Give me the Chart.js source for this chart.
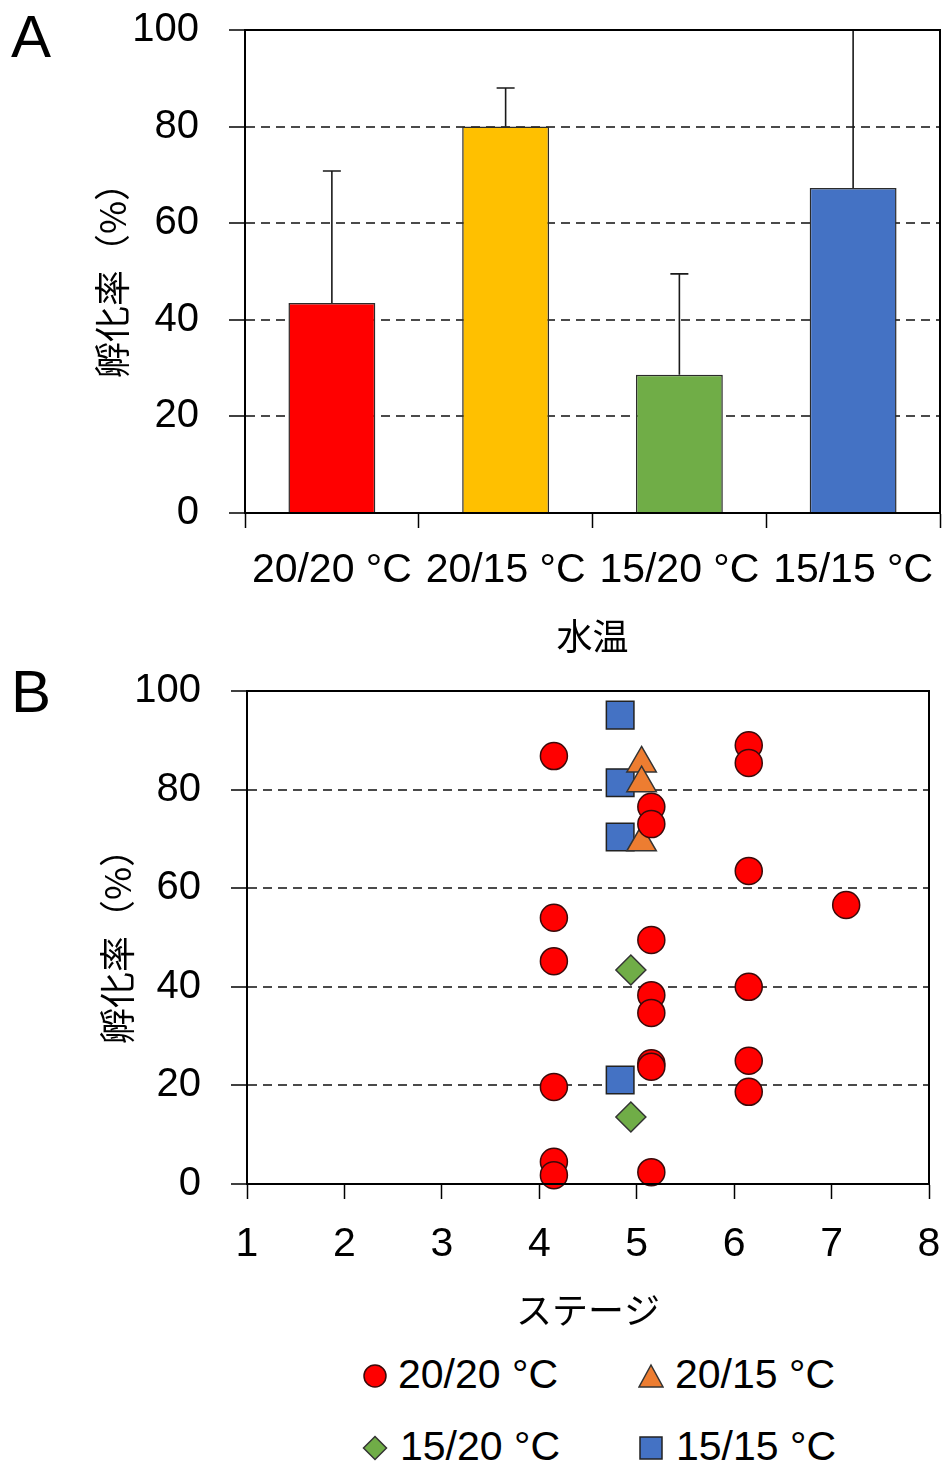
<!DOCTYPE html>
<html>
<head>
<meta charset="utf-8">
<script src="https://cdn.jsdelivr.net/npm/chart.js@4.4.1/dist/chart.umd.min.js"></script>
<style>
  html, body { margin: 0; padding: 0; background: #fff; }
  body { width: 942px; height: 1470px; position: relative; overflow: hidden; font-family: 'Liberation Sans', 'Noto Sans CJK JP', sans-serif; }
  #wrapA { position: absolute; left: 0; top: 0; width: 942px; height: 660px; }
  #wrapB { position: absolute; left: 0; top: 660px; width: 950px; height: 680px; }
  .panel { position: absolute; font-size: 60px; line-height: 60px; color: #000; }
  .leg { position: absolute; font-size: 41px; line-height: 48px; color: #000; white-space: nowrap; }
  .mk { position: absolute; }
</style>
</head>
<body>
<div id="wrapA"><canvas id="chartA" width="942" height="660"></canvas></div>
<div id="wrapB"><canvas id="chartB" width="950" height="680"></canvas></div>
<div class="panel" style="left:11px; top:7px;">A</div>
<div class="panel" style="left:11px; top:662px;">B</div>

<div id="legend"></div>

<script>
// ---------- DATA ----------
const categories = ['20/20 °C', '20/15 °C', '15/20 °C', '15/15 °C'];
const hatchMean = [43.5, 80.0, 28.6, 67.3];
const hatchSD = [27.3, 8.0, 20.9, 32.7];
const barColors = ['#FF0000', '#FFC000', '#70AD47', '#4472C4'];

const seriesNames = ['20/20 °C', '20/15 °C', '15/20 °C', '15/15 °C'];
const stage2020 = [4.15, 4.15, 4.15, 4.15, 4.15, 4.15, 5.15, 5.15, 5.15, 5.15, 5.15, 5.15, 5.15, 5.15, 6.15, 6.15, 6.15, 6.15, 6.15, 6.15, 7.15];
const rate2020 = [86.8, 54.0, 45.2, 19.7, 4.5, 1.8, 76.5, 73.0, 49.5, 38.3, 34.7, 24.5, 23.8, 2.4, 89.0, 85.4, 63.5, 40.0, 25.0, 18.7, 56.6];
const stage2015 = [5.05, 5.05, 5.05];
const rate2015 = [85.3, 81.3, 69.3];
const stage1520 = [4.94, 4.94];
const rate1520 = [43.4, 13.6];
const stage1515 = [4.83, 4.83, 4.83, 4.83];
const rate1515 = [95.1, 81.4, 70.4, 21.1];

const yTicks = [0, 20, 40, 60, 80, 100];
const xStageTicks = [1, 2, 3, 4, 5, 6, 7, 8];

// ---------- STYLE ----------
const NUMFONT = "'Liberation Sans', Arial, sans-serif";
const JPFONT = "'Noto Sans CJK JP', 'Liberation Sans', sans-serif";
const gridColor = (c) => (c.tick && (c.tick.value === 0 || c.tick.value === 100)) ? 'rgba(0,0,0,0)' : '#4a4a4a';

const framePlugin = {
  id: 'frame',
  afterDraw(chart) {
    const a = chart.chartArea, ctx = chart.ctx;
    ctx.save();
    ctx.strokeStyle = '#000';
    ctx.lineWidth = 2;
    ctx.strokeRect(a.left, a.top, a.right - a.left, a.bottom - a.top);
    ctx.restore();
  }
};

const errorBarPlugin = {
  id: 'errbars',
  afterDatasetsDraw(chart) {
    const meta = chart.getDatasetMeta(0);
    const ys = chart.scales.y, ctx = chart.ctx;
    ctx.save();
    ctx.strokeStyle = '#1a1a1a';
    ctx.lineWidth = 1.6;
    meta.data.forEach((bar, i) => {
      const top = ys.getPixelForValue(hatchMean[i] + hatchSD[i]);
      ctx.beginPath();
      ctx.moveTo(bar.x, bar.y);
      ctx.lineTo(bar.x, top);
      ctx.moveTo(bar.x - 9, top);
      ctx.lineTo(bar.x + 9, top);
      ctx.stroke();
    });
    ctx.restore();
  }
};

function yAxis(titlePad, w) {
  return {
    min: 0, max: 100,
    afterBuildTicks: (s) => { s.ticks = yTicks.map(v => ({ value: v })); },
    afterFit: (s) => { s.width = w; s.paddingTop = 0; s.paddingBottom = 0; },
    grid: { color: gridColor, lineWidth: 2, tickLength: 16, tickColor: '#000', tickWidth: 1.5, drawTicks: true },
    border: { display: true, color: '#000', width: 2, dash: [9, 6] },
    ticks: { color: '#000', font: { family: NUMFONT, size: 40 }, padding: 30 },
    title: { display: true, text: '孵化率（%）', color: '#000', font: { family: JPFONT, size: 36 }, padding: { top: titlePad, bottom: 0 } }
  };
}

// ---------- CHART A ----------
new Chart(document.getElementById('chartA'), {
  type: 'bar',
  data: {
    labels: categories,
    datasets: [{
      data: hatchMean,
      backgroundColor: barColors,
      borderColor: '#2b2b2b',
      borderWidth: 1.5,
      barPercentage: 0.5,
      categoryPercentage: 1.0
    }]
  },
  options: {
    responsive: false,
    animation: false,
    devicePixelRatio: 1,
    layout: { padding: { top: 30, right: 2, left: 0, bottom: 0 } },
    plugins: { legend: { display: false }, tooltip: { enabled: false } },
    scales: {
      x: {
        afterFit: (s) => { s.height = 147; s.paddingLeft = 0; s.paddingRight = 0; },
        grid: { offset: true, drawOnChartArea: false, drawTicks: true, tickLength: 15, tickColor: '#000', tickWidth: 1.5 },
        border: { display: true, color: '#000', width: 2 },
        ticks: { color: '#000', font: { family: NUMFONT, size: 41 }, padding: 18, maxRotation: 0, autoSkip: false },
        title: { display: true, text: '水温', color: '#000', font: { family: JPFONT, size: 36 }, padding: { top: 0, bottom: 2 } }
      },
      y: yAxis(91, 245)
    }
  },
  plugins: [errorBarPlugin, framePlugin]
});

// ---------- CHART B ----------
const toPts = (xs, ys) => xs.map((x, i) => ({ x: x, y: ys[i] }));
new Chart(document.getElementById('chartB'), {
  type: 'scatter',
  data: {
    datasets: [
      { label: seriesNames[0], data: toPts(stage2020, rate2020), pointStyle: 'circle', pointRadius: 13.5, backgroundColor: '#FF0000', borderColor: '#3a0a0a', borderWidth: 1.5, clip: false },
      { label: seriesNames[1], data: toPts(stage2015, rate2015), pointStyle: 'triangle', pointRadius: 17, backgroundColor: '#ED7D31', borderColor: '#333', borderWidth: 1.5, clip: false },
      { label: seriesNames[2], data: toPts(stage1520, rate1520), pointStyle: 'rectRot', pointRadius: 15, backgroundColor: '#70AD47', borderColor: '#333', borderWidth: 1.5, clip: false },
      { label: seriesNames[3], data: toPts(stage1515, rate1515), pointStyle: 'rect', pointRadius: 19.5, backgroundColor: '#4472C4', borderColor: '#222', borderWidth: 1.5, clip: false }
    ]
  },
  options: {
    responsive: false,
    animation: false,
    devicePixelRatio: 1,
    layout: { padding: { top: 31, right: 6, left: 0, bottom: 0 } },
    plugins: { legend: { display: false }, tooltip: { enabled: false } },
    scales: {
      x: {
        type: 'linear', min: 1, max: 8,
        afterBuildTicks: (s) => { s.ticks = xStageTicks.map(v => ({ value: v })); },
        afterFit: (s) => { s.height = 156; s.paddingLeft = 0; s.paddingRight = 0; },
        grid: { drawOnChartArea: false, drawTicks: true, tickLength: 15, tickColor: '#000', tickWidth: 1.5 },
        border: { display: true, color: '#000', width: 2 },
        ticks: { color: '#000', font: { family: NUMFONT, size: 41 }, padding: 21, maxRotation: 0, autoSkip: false },
        title: { display: true, text: 'ステージ', color: '#000', font: { family: JPFONT, size: 36 }, padding: { top: 0, bottom: 8 } }
      },
      y: yAxis(96, 247)
    }
  },
  plugins: [framePlugin]
});

// ---------- LEGEND (HTML) ----------
const legendItems = [
  { name: seriesNames[0], shape: 'circle', fill: '#FF0000', stroke: '#3a0a0a', cx: 375, cy: 1376, tx: 398 },
  { name: seriesNames[1], shape: 'triangle', fill: '#ED7D31', stroke: '#333', cx: 651, cy: 1376, tx: 675 },
  { name: seriesNames[2], shape: 'diamond', fill: '#70AD47', stroke: '#333', cx: 375, cy: 1448, tx: 400 },
  { name: seriesNames[3], shape: 'square', fill: '#4472C4', stroke: '#222', cx: 651, cy: 1448, tx: 676 }
];
const lg = document.getElementById('legend');
legendItems.forEach(it => {
  const s = 26;
  let shape = '';
  if (it.shape === 'circle') shape = `<circle cx="13" cy="13" r="11" fill="${it.fill}" stroke="${it.stroke}" stroke-width="1.5"/>`;
  if (it.shape === 'triangle') shape = `<polygon points="13,2 25,24 1,24" fill="${it.fill}" stroke="${it.stroke}" stroke-width="1.5"/>`;
  if (it.shape === 'diamond') shape = `<polygon points="13,1.5 24.5,13 13,24.5 1.5,13" fill="${it.fill}" stroke="${it.stroke}" stroke-width="1.5"/>`;
  if (it.shape === 'square') shape = `<rect x="2" y="2" width="22" height="22" fill="${it.fill}" stroke="${it.stroke}" stroke-width="1.5"/>`;
  const m = document.createElement('div');
  m.className = 'mk';
  m.style.left = (it.cx - s / 2) + 'px';
  m.style.top = (it.cy - s / 2) + 'px';
  m.innerHTML = `<svg width="${s}" height="${s}" viewBox="0 0 26 26">${shape}</svg>`;
  lg.appendChild(m);
  const t = document.createElement('div');
  t.className = 'leg';
  t.style.left = it.tx + 'px';
  t.style.top = (it.cy - 26) + 'px';
  t.textContent = it.name;
  lg.appendChild(t);
});
</script>
</body>
</html>
